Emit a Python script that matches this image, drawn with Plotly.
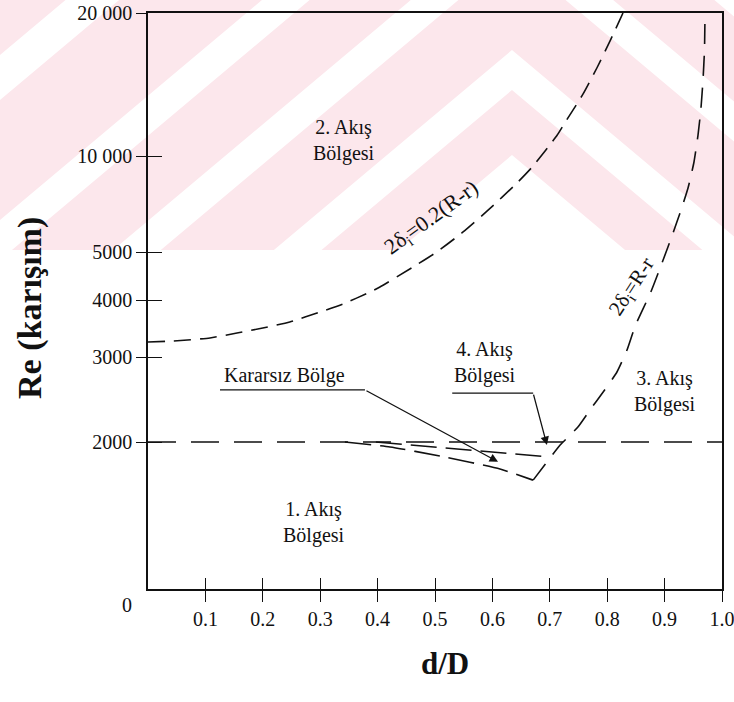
import numpy as np
import plotly.graph_objects as go

# ---------------- data ----------------
# Upper dashed boundary 2δi = 0.2(R-r)
curve_a_x = [0.0, 0.044, 0.108, 0.155, 0.200, 0.247, 0.300, 0.340, 0.387, 0.404,
             0.462, 0.503, 0.549, 0.591, 0.643, 0.671, 0.713, 0.726, 0.758, 0.782,
             0.805, 0.8275]
curve_a_re = [3236, 3252, 3303, 3386, 3473, 3580, 3765, 3921, 4152, 4250,
              4665, 5000, 5777, 6724, 8232, 9304, 11070, 11730, 13510, 15320,
              17470, 20000]

# Dashed boundary 2δi = R-r (starts at the corner of the unstable zone)
curve_b_x = [0.671, 0.718, 0.732, 0.749, 0.770, 0.793, 0.817, 0.8345, 0.8488, 0.876,
             0.8955, 0.9129, 0.9286, 0.9408, 0.9512, 0.9582, 0.9634, 0.9669, 0.9695, 0.9704]
curve_b_re = [1671, 1972, 2048, 2148, 2330, 2539, 2793, 3108, 3509, 4152,
              4752, 5614, 6771, 7937, 9577, 11070, 12620, 14460, 16720, 20000]

# Critical Reynolds line
crit_x = [0.0, 1.0]
crit_re = [2000, 2000]

# Lower boundaries of the unstable zone
low1_x = [0.397, 0.700]
low1_re = [2000, 1863]
low2_x = [0.343, 0.4216, 0.5087, 0.6132, 0.6707]
low2_re = [2000, 1954, 1872, 1761, 1671]

# Axis ticks
x_ticks = [0.1, 0.2, 0.3, 0.4, 0.5, 0.6, 0.7, 0.8, 0.9, 1.0]
x_ticktext = ["0.1", "0.2", "0.3", "0.4", "0.5", "0.6", "0.7", "0.8", "0.9", "1.0"]
y_ticks = [2000, 3000, 4000, 5000, 10000, 20000]
y_ticktext = ["2000", "3000", "4000", "5000", "10 000", "20 000"]

# ---------------- non-uniform (hand-drawn) Re scale ----------------
RE_REF = [1000, 2000, 3000, 4000, 5000, 10000, 20000]
AX_REF = [0, 147, 232, 289, 337, 433, 576]
Y_TOP = 576


def to_axis(v):
    return np.interp(np.log10(np.asarray(v, dtype=float)), np.log10(RE_REF), AX_REF)


FONT = "Times New Roman, Liberation Serif, serif"
BLACK = "#111111"

# figure geometry (pixels) used for the scanned-page watermark background
W, H = 734, 702
ML, MR, MT, MB = 148, 12, 13, 113
PW, PH = W - ML - MR, H - MT - MB


def px(xp):
    return (xp - ML) / PW


def py(yp):
    return (H - MB - yp) / PH


fig = go.Figure()


def dashed(x, re, dash, width=1.6, smooth=True):
    line = dict(color=BLACK, width=width, dash=dash)
    if smooth:
        line.update(shape="spline", smoothing=0.5)
    fig.add_trace(go.Scatter(x=x, y=to_axis(re), mode="lines", line=line,
                             hoverinfo="skip", showlegend=False))


dashed(curve_a_x, curve_a_re, "17px,9px")
dashed(curve_b_x, curve_b_re, "20px,12px")
dashed(crit_x, crit_re, "28px,15px", smooth=False)
dashed(low1_x, low1_re, "26px,9px", smooth=False)
dashed(low2_x, low2_re, "26px,9px", smooth=True)

# helper trace for the overlaid tick axes (ticks crossing the frame)
fig.add_trace(go.Scatter(x=[0.5], y=[10], xaxis="x2", yaxis="y2", mode="markers",
                         marker=dict(opacity=0), hoverinfo="skip", showlegend=False))

tickfont = dict(family=FONT, size=20, color=BLACK)
label_font = dict(family=FONT, size=20, color=BLACK)

annotations = []


def label(text, x, re, **kw):
    d = dict(text=text, x=x, y=float(to_axis(re)), xref="x", yref="y",
             showarrow=False, font=label_font, align="center")
    d.update(kw)
    annotations.append(d)


label("2. Akış<br>Bölgesi", 0.341, 10755)
label("1. Akış<br>Bölgesi", 0.289, 1371)
label("3. Akış<br>Bölgesi", 0.90, 2539)
label("4. Akış<br>Bölgesi", 0.587, 2929)
label("Kararsız Bölge", 0.129, 2753, xanchor="left")
label("2δ<sub>i</sub>=0.2(R-r)", 0.495, 6393, textangle=-36,
      font=dict(family=FONT, size=22, color=BLACK))
label("2δ<sub>i</sub>=R-r", 0.843, 4250, textangle=-57,
      font=dict(family=FONT, size=21, color=BLACK))


def arrow(x_from, re_from, x_to, re_to):
    annotations.append(dict(text="", x=x_to, y=float(to_axis(re_to)), ax=x_from,
                            ay=float(to_axis(re_from)), xref="x", yref="y", axref="x", ayref="y",
                            showarrow=True, arrowhead=2, arrowsize=1.3, arrowwidth=1.3,
                            arrowcolor=BLACK, standoff=0))


arrow(0.378, 2564, 0.6098, 1822)
arrow(0.671, 2526, 0.695, 1972)

shapes = []

# ---- faint pink watermark of the scanned page (chevron stripes, cut at y=250 px) ----
PINK = "rgb(252,231,236)"
shapes.append(dict(type="rect", xref="paper", yref="paper", x0=px(0), x1=px(W),
                   y0=py(0), y1=py(250), fillcolor=PINK, line=dict(width=0), layer="below"))
APEX_X, SLOPE = 512, 0.84


def chevron_band(y0a, y0b, color):
    xl, xr = -10, W + 10
    pts = [(xl, y0a + SLOPE * (APEX_X - xl)), (APEX_X, y0a), (xr, y0a + SLOPE * (xr - APEX_X)),
           (xr, y0b + SLOPE * (xr - APEX_X)), (APEX_X, y0b), (xl, y0b + SLOPE * (APEX_X - xl))]
    path = "M " + " L ".join(f"{px(a):.4f},{py(b):.4f}" for a, b in pts) + " Z"
    shapes.append(dict(type="path", xref="paper", yref="paper", path=path,
                       fillcolor=color, line=dict(width=0), layer="below"))


for a, b in [(155, 1200), (50, 90), (-85, -45), (-210, -170), (-375, -330)]:
    chevron_band(a, b, "white")
shapes.append(dict(type="rect", xref="paper", yref="paper", x0=px(0), x1=px(W),
                   y0=py(250), y1=py(H), fillcolor="white", line=dict(width=0), layer="below"))


def underline(x0, x1, re):
    yv = float(to_axis(re))
    shapes.append(dict(type="line", xref="x", yref="y", x0=x0, x1=x1, y0=yv, y1=yv,
                       line=dict(color=BLACK, width=1.3)))


underline(0.1254, 0.378, 2564)
underline(0.530, 0.671, 2526)

# axis titles and origin label
annotations.append(dict(text="<b>Re (karışım)</b>", xref="paper", yref="paper",
                        x=px(30), y=py(308), xanchor="center", yanchor="middle", textangle=-90,
                        showarrow=False, font=dict(family=FONT, size=34, color=BLACK)))
annotations.append(dict(text="<b>d/D</b>", xref="paper", yref="paper",
                        x=px(445), y=py(663), xanchor="center", yanchor="middle",
                        showarrow=False, font=dict(family=FONT, size=31, color=BLACK)))
annotations.append(dict(text="0", xref="paper", yref="paper", x=px(127), y=py(605),
                        xanchor="center", yanchor="middle", showarrow=False, font=tickfont))

fig.update_layout(
    width=W, height=H,
    margin=dict(l=ML, r=MR, t=MT, b=MB, autoexpand=False),
    paper_bgcolor="white", plot_bgcolor="rgba(0,0,0,0)",
    showlegend=False,
    xaxis=dict(range=[0, 1], tickvals=x_ticks, ticktext=x_ticktext, ticks="outside",
               ticklen=11, tickwidth=1.2, tickcolor=BLACK, tickfont=tickfont,
               ticklabeloverflow="allow",
               showline=True, linecolor=BLACK, linewidth=1.6, mirror=True,
               showgrid=False, zeroline=False, automargin=False),
    xaxis2=dict(range=[0, 1], overlaying="x", anchor="y", side="bottom",
                tickvals=x_ticks, ticks="inside", ticklen=11, tickwidth=1.2,
                tickcolor=BLACK, showticklabels=False, showline=False,
                showgrid=False, zeroline=False, automargin=False),
    yaxis=dict(range=[0, Y_TOP], tickvals=list(to_axis(y_ticks)), ticktext=y_ticktext,
               ticks="outside", ticklen=10, tickwidth=1.2, tickcolor=BLACK, tickfont=tickfont,
               ticklabeloverflow="allow",
               showline=True, linecolor=BLACK, linewidth=1.6, mirror=True,
               showgrid=False, zeroline=False, automargin=False),
    yaxis2=dict(range=[0, Y_TOP], overlaying="y", anchor="x", side="left",
                tickvals=list(to_axis(y_ticks)), ticks="inside", ticklen=14, tickwidth=1.2,
                tickcolor=BLACK, showticklabels=False, showline=False,
                showgrid=False, zeroline=False, automargin=False),
    annotations=annotations,
    shapes=shapes,
)

fig.write_html("out.html", config={"displayModeBar": False},
               post_script="document.body.style.margin='0';")
